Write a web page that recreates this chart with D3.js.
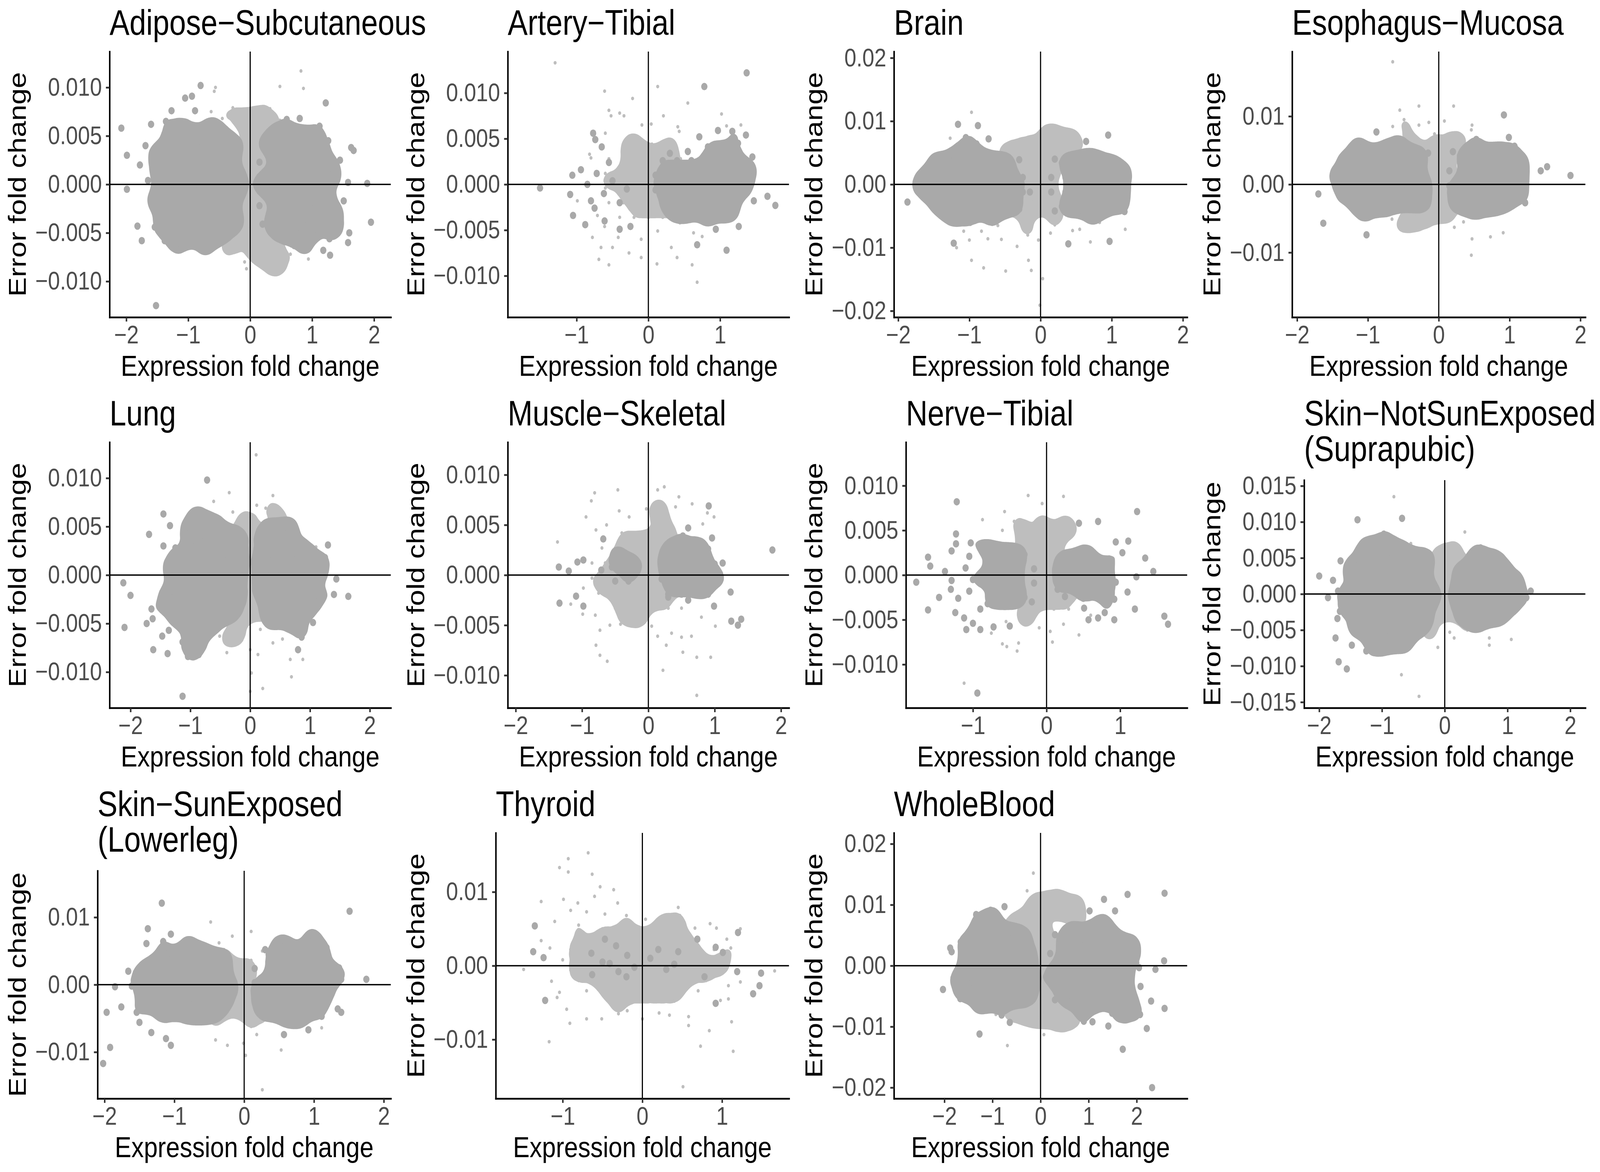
<!DOCTYPE html>
<html>
  <head>
    <meta charset="utf-8" />
    <title>Error vs expression fold change by tissue</title>
    <script src="https://d3js.org/d3.v7.min.js"></script>
    <style>
      html, body { margin: 0; padding: 0; width: 100%; height: 100%; overflow: hidden; background: #ffffff; }
      svg { display: block; }
      text { font-family: "Liberation Sans", Arial, Helvetica, sans-serif; }
    </style>
  </head>
  <body>
    <svg id="chart" viewBox="0 0 4819 3000" preserveAspectRatio="none" style="width: 100%; height: 100%"></svg>

    <script>
      // panel titles in facet order
      var titles = [
        "Adipose\u2212Subcutaneous", "Artery\u2212Tibial", "Brain", "Esophagus\u2212Mucosa",
        "Lung", "Muscle\u2212Skeletal", "Nerve\u2212Tibial", "Skin\u2212NotSunExposed\n(Suprapubic)",
        "Skin\u2212SunExposed\n(Lowerleg)", "Thyroid", "WholeBlood"
      ];

      // symmetric axis limits of each panel
      var xLimits = [2.27, 1.96, 2.06, 2.07, 2.35, 2.12, 1.91, 2.24, 2.1, 1.84, 3.05];
      var yLimits = [0.0137, 0.01453, 0.021, 0.0195, 0.0137, 0.01325, 0.01486, 0.0158, 0.0169, 0.018, 0.0218];

      var xTicks = [
        [-2, -1, 0, 1, 2], [-1, 0, 1], [-2, -1, 0, 1, 2], [-2, -1, 0, 1, 2],
        [-2, -1, 0, 1, 2], [-2, -1, 0, 1, 2], [-1, 0, 1], [-2, -1, 0, 1, 2],
        [-2, -1, 0, 1, 2], [-1, 0, 1], [-2, -1, 0, 1, 2]
      ];
      var yTicks = [
        [-0.01, -0.005, 0, 0.005, 0.01], [-0.01, -0.005, 0, 0.005, 0.01],
        [-0.02, -0.01, 0, 0.01, 0.02], [-0.01, 0, 0.01],
        [-0.01, -0.005, 0, 0.005, 0.01], [-0.01, -0.005, 0, 0.005, 0.01],
        [-0.01, -0.005, 0, 0.005, 0.01], [-0.015, -0.01, -0.005, 0, 0.005, 0.01, 0.015],
        [-0.01, 0, 0.01], [-0.01, 0, 0.01], [-0.02, -0.01, 0, 0.01, 0.02]
      ];
      var yDigits = [3, 3, 2, 2, 3, 3, 3, 3, 2, 2, 2];

      // points as flat pairs: expression fold change, error fold change (x 1e-3)
      // "Big" = large dark dots, "Small" = small light dots
      var yUnit = 0.001;

      var adiposeBig = [
        -2.08,5.8, -1.99,3.0, -1.99,-0.5, -1.78,2.0, -1.69,4.0, -1.52,3.9, -1.60,6.2, -1.58,2.8, -1.65,0.4, -1.58,-1.7,
        -1.82,-4.3, -1.75,-5.8, -1.54,-4.4, -1.36,-4.3, -1.38,-5.8, -1.21,-6.5, -1.10,-6.4, -1.52,-12.5, -1.01,-4.8, -0.70,-6.2,
        -0.74,-6.8, -0.87,-5.6, -1.31,-2.4, -1.36,6.5, -1.27,7.6, -1.05,8.9, -0.94,9.1, -0.80,10.2, -0.89,7.6, -1.10,6.2,
        -0.63,6.3, -0.52,5.8, -1.33,4.6, -1.45,2.2, -1.48,-0.9, -1.40,-3.0, -1.25,5.3, -0.95,5.5, -0.75,5.0, -0.40,-5.5, -0.55,-5.2,
        0.59,6.7, 0.80,6.8, 1.22,8.4, 1.12,6.0, 1.26,4.5, 0.82,4.7, 1.07,3.5, 1.45,2.5, 1.63,3.8, 1.67,3.5,
        1.38,0.6, 1.58,0.2, 1.89,0.1, 1.51,-1.7, 1.44,-2.6, 1.95,-3.9, 1.33,-4.2, 1.44,-4.7, 1.60,-5.0, 1.58,-6.0,
        1.28,-5.6, 1.18,-6.8, 1.29,-7.3, 0.89,-6.2, 0.88,-6.6, 0.86,-5.0, 0.73,-4.7, 1.02,-3.6, 1.11,-2.3, 1.20,-1.0,
        1.25,1.5, 1.15,2.5, 0.95,5.2, 0.45,5.6, 0.62,-5.5, 1.35,-3.4, 1.05,-4.6,
        -1.15,4.6, -0.95,4.9, -0.8,4.4, -0.65,4.7, -0.5,4.3, -0.35,4.6, -0.2,4.2, -1.3,3.6, -1.1,5.6, -0.7,5.6, -0.45,5.2,
        -1.15,-4.4, -0.95,-4.6, -0.8,-4.3, -0.65,-4.8, -0.5,-4.4, -0.3,-4.5, -0.2,-3.9, -1.3,-3.5, -1.05,-5.3, -0.6,-5.6, -0.85,-5.0,
        -1.38,2.5, -1.42,1.2, -1.4,-0.2, -1.38,-1.6, -1.33,-2.8, -1.55,0.9, -1.5,-2.0,
        0.2,4.3, 0.35,4.6, 0.5,4.4, 0.65,4.8, 0.8,4.3, 0.95,4.0, 0.4,5.2, 0.75,5.5, 1.0,4.6,
        0.2,-4.1, 0.35,-4.5, 0.5,-4.3, 0.65,-4.7, 0.8,-4.4, 0.95,-4.0, 0.45,-5.3, 0.75,-5.4, 1.0,-5.0,
        1.15,3.0, 1.2,1.6, 1.2,0.2, 1.18,-1.2, 1.15,-2.8, 1.3,0.9, 1.3,-1.8, 1.35,2.2,
        -1.0,3.8, -0.8,3.8, -0.6,3.8, -0.4,3.8, -0.25,3.8,
        -1.2,2.3, -1.0,2.3, -0.8,2.3, -0.6,2.3, -0.4,2.3, -0.2,2.3,
        -1.25,0.8, -1.05,0.8, -0.85,0.8, -0.65,0.8, -0.45,0.8, -0.25,0.8, -0.15,0.8,
        -1.25,-0.7, -1.05,-0.7, -0.85,-0.7, -0.65,-0.7, -0.45,-0.7, -0.25,-0.7, -0.15,-0.7,
        -1.2,-2.2, -1.0,-2.2, -0.8,-2.2, -0.6,-2.2, -0.4,-2.2, -0.2,-2.2,
        -1.0,-3.7, -0.8,-3.7, -0.6,-3.7, -0.4,-3.7, -0.25,-3.7,
        0.3,3.8, 0.5,3.8, 0.7,3.8, 0.85,3.8,
        0.15,2.3, 0.35,2.3, 0.55,2.3, 0.75,2.3, 0.95,2.3,
        0.15,0.8, 0.3,0.8, 0.5,0.8, 0.7,0.8, 0.9,0.8, 1.05,0.8,
        0.15,-0.7, 0.3,-0.7, 0.5,-0.7, 0.7,-0.7, 0.9,-0.7, 1.05,-0.7,
        0.15,-2.2, 0.35,-2.2, 0.55,-2.2, 0.75,-2.2, 0.95,-2.2,
        0.3,-3.7, 0.5,-3.7, 0.7,-3.7, 0.85,-3.7
      ];
      var adiposeSmall = [
        -0.3,4.5, -0.1,4.5, 0.1,4.5, 0.3,4.5, 0.5,4.5, -0.3,3.0, -0.1,3.0, 0.1,3.0, 0.3,3.0,
        -0.2,1.5, 0,1.5, 0.2,1.5, -0.2,0, 0,0, 0.2,0, -0.2,-1.5, 0,-1.5, 0.2,-1.5,
        -0.3,-3.0, -0.1,-3.0, 0.1,-3.0, 0.3,-3.0, 0.5,-3.0, -0.2,-4.5, 0,-4.5, 0.2,-4.5, 0.4,-4.5, 0.6,-4.5,
        0.48,10.1, 0.82,11.7, 0.86,9.9, -0.56,10.0, -0.58,9.6, -0.28,7.9, -0.63,7.5, -0.02,6.6, 0.13,7.8, 0.32,7.8,
        -0.07,7.2, 0.48,6.6, -0.45,6.8, -0.2,6.2, 0.2,6.3, 0.6,5.9, -0.5,5.6, 0.05,5.5, 0.35,5.5,
        -0.09,-8.0, -0.06,-8.7, 0.37,-8.8, 0.44,-8.1, 0.49,-8.4, 0.24,-8.0, 0.18,-7.6, 0.09,-6.5, 0.01,-7.3, 0.94,-7.7,
        -0.28,-6.7, -0.42,-6.7, -0.52,-6.1, 0.28,-5.5, 0.49,-5.8, 0.7,-6.5, -0.15,-5.8, 0.65,-7.2, -0.35,-5.2
      ];

      var arteryBig = [
        -1.51,-0.4, -1.06,1.0, -1.09,-1.1, -1.05,-3.4, -0.88,-4.4, -0.94,1.6, -0.77,5.6, -0.74,4.9, -0.65,4.1, -0.80,-1.8,
        -0.61,-4.0, -0.40,-4.9, -0.25,-4.6,
        0.78,10.7, 1.37,12.2, 0.97,5.9, 1.17,5.8, 1.36,5.4, 1.25,4.5, 0.99,4.3, 0.83,4.1, 0.71,5.2, 1.45,3.0,
        1.22,2.6, 1.37,2.0, 1.42,1.6, 1.26,0.4, 1.66,-1.3, 1.77,-2.3, 1.47,-1.8, 1.25,-0.8, 1.26,-4.6, 1.09,-7.2,
        0.68,-6.6, 0.94,-4.9, 0.84,-4.1, 1.12,-3.4, 1.03,-2.8,
        0.3,3.4, 0.55,3.6, 0.8,3.4, 1.05,3.3, 0.3,-3.0, 0.5,-3.2, 1.0,-3.0, 1.2,-2.8, 1.38,1.0, 1.4,-0.5,
        0.2,2.6, 0.4,2.6, 0.6,2.6, 0.8,2.6, 1.0,2.6, 1.2,2.6,
        0.1,1.0, 0.3,1.0, 0.5,1.0, 0.7,1.0, 0.9,1.0, 1.1,1.0, 1.25,1.0,
        0.1,-0.6, 0.3,-0.6, 0.5,-0.6, 0.7,-0.6, 0.9,-0.6, 1.1,-0.6, 1.25,-0.6,
        0.2,-2.2, 0.4,-2.2, 0.6,-2.2, 0.8,-2.2, 1.0,-2.2, 1.15,-2.2,
        0.4,-3.5, 0.6,-3.5, 0.8,-3.5,
        -0.72,1.2, -0.5,0.4, -0.62,-1.0, -0.4,-2.0, -0.75,-2.6, -0.3,-0.5, -0.55,2.4, -0.85,0.0
      ];
      var arterySmall = [
        -0.35,4.4, -0.15,4.4, 0.05,4.4, 0.25,4.4,
        -0.55,2.8, -0.35,2.8, -0.15,2.8, 0.05,2.8, 0.25,2.8, 0.45,2.8,
        -0.6,1.2, -0.4,1.2, -0.2,1.2, 0,1.2, 0.2,1.2, 0.4,1.2,
        -0.6,-0.4, -0.4,-0.4, -0.2,-0.4, 0,-0.4, 0.2,-0.4, 0.4,-0.4,
        -0.55,-2.0, -0.35,-2.0, -0.15,-2.0, 0.05,-2.0, 0.25,-2.0, 0.45,-2.0,
        -0.4,-3.6, -0.2,-3.6, 0,-3.6, 0.2,-3.6, 0.4,-3.6,
        -1.30,13.3, 0.13,10.7, -0.61,10.2, -0.22,9.4, 0.55,8.9, -0.55,8.1, -0.52,7.5, -0.40,7.8, -0.34,7.5, 0.21,7.5,
        1.02,7.7, 0.04,6.6, 0.41,6.3, 0.43,5.8, -0.60,5.6, -0.82,3.3, 1.09,6.4, 1.29,6.5, 0.35,4.5, -0.21,5.1,
        -0.09,6.5, -0.80,2.9,
        -0.78,-5.8, -0.66,-6.9, -0.50,-6.9, -0.42,-5.8, -0.27,-7.5, -0.10,-8.0, -0.10,-6.0, 0.12,-8.7, 0.40,-8.0, 0.61,-8.8,
        0.68,-10.7, -0.69,-8.2, -0.55,-8.8, 0.32,-6.9, 0.63,-5.3, 0.13,-5.1, 0.44,-4.2, 0.75,-5.7, -0.61,-4.6, -0.71,-3.4,
        -0.99,-1.8
      ];

      var brainBig = [
        -1.87,-2.8, -1.74,-0.5, -1.67,1.0, -1.49,4.2, -1.43,2.8, -1.16,9.5, -0.88,9.3, -1.05,7.4, -0.73,7.2, -1.12,5.4,
        -1.21,3.9, -1.55,-1.2, -1.46,-4.0, -1.27,-4.6, -1.21,-5.7, -0.99,-6.0, -0.68,-6.0, -1.22,-9.3, -0.9,6.4, -1.35,-2.6,
        0.95,7.8, 0.64,6.8, 0.67,4.2, 1.05,2.8, 1.22,2.0, 1.17,-1.7, 1.18,-4.3, 0.97,-9.0, 0.73,-5.7, 0.89,-3.1,
        0.39,-9.4, 1.1,0.6,
        -1.3,4.2, -1.1,4.5, -0.9,4.3, -0.7,4.6, -0.5,4.2, -0.3,3.9, -1.45,2.8,
        -1.3,-4.3, -1.1,-4.6, -0.9,-4.4, -0.7,-4.7, -0.5,-4.5, -0.3,-3.9, -1.45,-2.6,
        -1.6,1.8, -1.62,0.2, -1.6,-1.5,
        0.2,4.0, 0.4,4.3, 0.6,4.2, 0.8,4.4, 1.0,3.5, 0.2,-4.2, 0.4,-4.4, 0.6,-4.3, 0.8,-4.5, 1.0,-3.6,
        1.12,2.2, 1.15,0.0, 1.12,-2.2,
        -1.2,3.4, -1.0,3.4, -0.8,3.4, -0.6,3.4, -0.4,3.4,
        -1.45,1.1, -1.25,1.1, -1.05,1.1, -0.85,1.1, -0.65,1.1, -0.45,1.1, -0.25,1.1,
        -1.45,-1.2, -1.25,-1.2, -1.05,-1.2, -0.85,-1.2, -0.65,-1.2, -0.45,-1.2, -0.25,-1.2, -0.15,-1.2,
        -1.2,-3.5, -1.0,-3.5, -0.8,-3.5, -0.6,-3.5, -0.4,-3.5,
        0.3,3.4, 0.5,3.4, 0.7,3.4, 0.9,3.4,
        0.15,1.1, 0.35,1.1, 0.55,1.1, 0.75,1.1, 0.95,1.1,
        0.15,-1.2, 0.35,-1.2, 0.55,-1.2, 0.75,-1.2, 0.95,-1.2, 1.05,-1.2,
        0.3,-3.5, 0.5,-3.5, 0.7,-3.5, 0.9,-3.5
      ];
      var brainSmall = [
        -0.5,4.6, -0.3,4.6, -0.1,4.6, 0.1,4.6, 0.3,4.6, -0.5,2.3, -0.3,2.3, -0.1,2.3, 0.1,2.3, 0.3,2.3,
        -0.4,0, -0.2,0, 0,0, 0.2,0,
        -0.5,-2.3, -0.3,-2.3, -0.1,-2.3, 0.1,-2.3, 0.3,-2.3, -0.5,-4.6, -0.3,-4.6, -0.1,-4.6, 0.1,-4.6, 0.3,-4.6,
        -0.97,11.4, -1.27,7.3, -0.73,5.1, -0.49,5.6, -0.34,6.1, -0.21,6.3, 0.04,8.1, 0.14,8.4, 0.24,8.3, 0.43,8.1,
        0.47,6.9, 0.36,6.1, 0.20,6.5, 0.55,5.9, -0.1,6.8,
        -1.08,-7.4, -0.83,-7.4, -1.00,-8.8, -0.74,-8.6, -0.55,-8.7, -0.18,-8.0, -0.03,-8.8, 0.14,-7.7,
        0.45,-7.3, 0.55,-7.1, 0.70,-9.1, 1.19,-7.1, -1.18,-10.0, -0.33,-9.8, -0.97,-12.0, -0.17,-12.0, -0.80,-13.2,
        -0.49,-13.7, -0.13,-13.6, 0.03,-14.9, -0.01,-19.1, 0.83,-6.0, 0.61,-5.4, -0.6,-6.5, -0.2,-6.2, 0.2,-6.4
      ];

      var esophagusBig = [
        -1.70,-1.4, -1.63,-5.7, -1.49,1.6, -1.33,-1.5, -1.32,4.0, -1.19,4.8, -1.14,6.2, -0.88,7.7, -1.02,-7.4, -1.04,-4.8,
        -1.08,-3.4, -0.78,-3.9, -0.55,6.6, -1.4,0.2, -0.7,5.6,
        0.53,6.6, 0.85,5.0, 0.99,6.9, 0.92,10.2, 1.07,5.6, 1.44,2.0, 1.53,2.6, 1.86,1.3, 1.19,-1.9, 1.22,-2.7,
        0.91,-1.6, 0.53,-4.4, 0.38,-3.1, 1.15,0.8, 1.2,3.5, 0.75,-3.5,
        -1.1,5.0, -0.9,5.2, -0.7,5.0, -0.5,5.3, -0.3,4.9, -0.15,4.6,
        -1.15,-3.2, -0.95,-3.4, -0.75,-3.1, -0.55,-3.5, -0.35,-3.2, -0.2,-3.0, -1.35,3.2, -1.38,1.0, -1.35,-1.4,
        0.2,4.8, 0.4,5.1, 0.6,5.0, 0.8,4.8, 1.0,4.0, 0.25,-3.2, 0.45,-3.4, 0.65,-3.3, 0.85,-3.1, 1.0,-2.6,
        1.15,3.0, 1.18,1.0, 1.15,-1.2,
        -1.0,4.2, -0.8,4.2, -0.6,4.2, -0.4,4.2, -0.2,4.2,
        -1.2,2.0, -1.0,2.0, -0.8,2.0, -0.6,2.0, -0.4,2.0, -0.2,2.0,
        -1.25,-0.2, -1.05,-0.2, -0.85,-0.2, -0.65,-0.2, -0.45,-0.2, -0.25,-0.2, -0.15,-0.2,
        -1.2,-2.4, -1.0,-2.4, -0.8,-2.4, -0.6,-2.4, -0.4,-2.4, -0.2,-2.4,
        0.3,4.2, 0.5,4.2, 0.7,4.2, 0.9,4.2,
        0.15,2.0, 0.3,2.0, 0.5,2.0, 0.7,2.0, 0.9,2.0, 1.05,2.0,
        0.15,-0.2, 0.3,-0.2, 0.5,-0.2, 0.7,-0.2, 0.9,-0.2, 1.05,-0.2,
        0.2,-2.4, 0.4,-2.4, 0.6,-2.4, 0.8,-2.4, 0.95,-2.4
      ];
      var esophagusSmall = [
        -0.4,5.5, -0.2,5.5, 0,5.5, 0.2,5.5, -0.4,3.3, -0.2,3.3, 0,3.3, 0.2,3.3, 0.4,3.3,
        -0.3,1.1, -0.1,1.1, 0.1,1.1, 0.3,1.1, -0.3,-1.1, -0.1,-1.1, 0.1,-1.1, 0.3,-1.1,
        -0.4,-3.3, -0.2,-3.3, 0,-3.3, 0.2,-3.3, 0.4,-3.3,
        -0.65,18.0, -0.28,11.5, 0.21,11.5, -0.55,10.9, -0.49,9.5, -0.28,8.7, -0.14,9.1, 0.08,9.3, 0.47,8.7, 0.46,8.0,
        -0.65,8.5, -0.06,7.4, 0.19,7.0, 0.35,6.6, 0.22,5.6, -0.38,6.1, -0.45,7.8,
        -0.66,-5.1, -0.49,-5.2, -0.35,-4.7, -0.09,-5.1, 0.08,-4.0, 0.22,-6.3, 0.13,-4.9, 0.47,-8.0, 0.73,-7.7, 0.91,-7.1,
        0.46,-10.4, -0.35,-6.4, -0.55,-6.4, -0.2,-5.6, 0.35,-5.5
      ];

      var lungBig = [
        -0.72,9.8, -1.45,6.3, -1.34,5.1, -1.69,4.2, -1.45,3.0, -1.09,4.8, -0.96,5.9, -0.89,6.5, -0.74,6.0, -0.6,5.3,
        -1.36,0.8, -1.24,0.8, -2.12,-0.8, -2.00,-2.1, -1.47,-1.8, -1.3,-2.4, -1.41,-3.4, -1.65,-3.5, -1.63,-4.5, -1.73,-5.0,
        -2.10,-5.4, -1.47,-6.3, -1.30,-4.7, -1.15,-4.4, -1.36,-5.7, -1.13,-6.9, -0.95,-6.9, -0.76,-6.9, -1.62,-7.7, -1.38,-8.1,
        -1.04,-8.4, -0.86,-8.2, -1.13,-12.5, -0.95,-5.6, -1.02,-4.0,
        0.69,5.1, 0.56,4.8, 0.4,4.3, 1.30,3.1, 0.88,1.8, 1.06,1.1, 1.25,1.8, 1.44,-0.4, 1.14,0.3, 1.40,-2.0,
        1.64,-2.2, 1.06,-2.7, 0.99,-3.9, 1.05,-4.9, 0.88,-5.2, 0.80,-7.7, 0.86,-6.4, 0.69,-5.0,
        -1.0,4.4, -0.8,4.2, -0.65,4.6, -0.45,4.3, -0.3,4.5, -0.15,4.1, -0.9,5.1, -0.55,5.3,
        -1.1,-4.6, -0.9,-4.5, -0.7,-4.8, -0.5,-4.5, -0.3,-4.3, -0.2,-3.5, -0.6,-5.8,
        -1.25,2.8, -1.28,1.4, -1.3,-0.1, -1.3,-1.6, -1.28,-3.1,
        0.2,4.3, 0.35,4.6, 0.5,4.2, 0.7,4.0, 0.85,3.2, 0.3,5.2, 0.6,5.0,
        0.25,-4.2, 0.45,-4.5, 0.6,-4.2, 0.8,-3.5, 0.35,-5.2, 0.7,-5.0,
        1.0,2.6, 1.05,1.3, 1.08,-0.2, 1.05,-1.6, 1.0,-2.9, 1.2,0.5, 1.15,-2.2,
        -0.95,3.6, -0.75,3.6, -0.55,3.6, -0.35,3.6, -0.2,3.6,
        -1.05,2.1, -0.85,2.1, -0.65,2.1, -0.45,2.1, -0.25,2.1, -0.15,2.1,
        -1.1,0.6, -0.9,0.6, -0.7,0.6, -0.5,0.6, -0.3,0.6, -0.15,0.6,
        -1.15,-0.9, -0.95,-0.9, -0.75,-0.9, -0.55,-0.9, -0.35,-0.9, -0.15,-0.9,
        -1.15,-2.4, -0.95,-2.4, -0.75,-2.4, -0.55,-2.4, -0.35,-2.4, -0.15,-2.4,
        -1.0,-3.9, -0.8,-3.9, -0.6,-3.9, -0.4,-3.9,
        0.2,3.6, 0.4,3.6, 0.6,3.6,
        0.15,2.1, 0.3,2.1, 0.5,2.1, 0.7,2.1, 0.85,2.1,
        0.15,0.6, 0.3,0.6, 0.5,0.6, 0.7,0.6, 0.9,0.6,
        0.15,-0.9, 0.3,-0.9, 0.5,-0.9, 0.7,-0.9, 0.9,-0.9,
        0.15,-2.4, 0.35,-2.4, 0.55,-2.4, 0.75,-2.4, 0.9,-2.4,
        0.3,-3.6, 0.5,-3.6, 0.7,-3.6
      ];
      var lungSmall = [
        -0.3,4.6, -0.1,4.6, 0.1,4.6, 0.3,4.6, 0.5,4.6, -0.4,3.1, -0.2,3.1, 0,3.1, 0.2,3.1, 0.4,3.1,
        -0.3,1.6, -0.1,1.6, 0.1,1.6, -0.2,0.1, 0,0.1, 0.15,0.1, -0.2,-1.4, 0,-1.4, 0.15,-1.4,
        -0.35,-2.9, -0.15,-2.9, 0.05,-2.9, 0.25,-2.9, -0.3,-4.4, -0.1,-4.4, 0.1,-4.4, 0.3,-4.4, 0.5,-4.4,
        0.10,12.4, -0.35,8.5, 0.38,8.2, -0.61,7.6, 0.11,7.2, 0.45,7.1, 0.26,6.9, -0.29,6.5, -0.14,6.0, 0.0,5.9,
        0.51,5.9, 0.54,5.0, 1.10,2.9, -0.45,5.6,
        -0.39,-6.4, -0.51,-6.3, -0.35,-6.8, -0.14,-6.7, -0.39,-8.0, 0.0,-7.7, 0.13,-8.2, 0.38,-7.0, 0.54,-6.6, 0.67,-8.7,
        0.88,-8.7, 0.02,-10.1, 0.69,-10.5, 0.21,-11.7, 0.17,-5.6, 0.43,-4.9, -0.2,-5.5, 0.0,-12.0
      ];

      var muscleBig = [
        -1.35,0.8, -1.34,-2.8, -1.20,0.4, -1.07,1.3, -0.98,1.5, -1.09,-2.1, -0.98,-3.1, -0.71,0.5, -0.68,3.6, -0.48,2.2,
        -0.29,0.7, -0.25,1.5,
        0.27,1.9, 0.37,3.0, 0.60,4.7, 0.52,3.9, 0.76,3.4, 0.96,3.7, 0.91,6.9, 1.12,1.2, 1.09,-0.4, 0.46,-0.4,
        0.30,-2.2, 0.60,-2.5, 0.99,-3.1, 1.24,-1.7, 1.25,-4.6, 1.35,-5.0, 1.40,-4.4, 1.87,2.5, 0.8,-1.0,
        0.3,2.6, 0.5,2.6, 0.7,2.6, 0.9,2.6,
        0.2,1.1, 0.4,1.1, 0.6,1.1, 0.8,1.1, 1.0,1.1,
        0.2,-0.4, 0.4,-0.4, 0.6,-0.4, 0.8,-0.4, 1.0,-0.4,
        0.3,-1.9, 0.5,-1.9, 0.7,-1.9, 0.9,-1.9,
        -0.55,0.8, -0.35,0.8, -0.15,0.8, -0.5,-0.6, -0.3,-0.6, -0.45,2.0
      ];
      var muscleSmall = [
        -0.4,4.2, -0.2,4.2, 0,4.2, 0.2,4.2, 0.4,4.2,
        -0.7,2.7, -0.5,2.7, -0.3,2.7, -0.1,2.7, 0.1,2.7, 0.3,2.7, 0.5,2.7, 0.7,2.7,
        -0.85,1.2, -0.65,1.2, -0.45,1.2, -0.25,1.2, -0.05,1.2, 0.15,1.2, 0.35,1.2, 0.55,1.2, 0.75,1.2,
        -0.85,-0.3, -0.65,-0.3, -0.45,-0.3, -0.25,-0.3, -0.05,-0.3, 0.15,-0.3, 0.35,-0.3, 0.55,-0.3, 0.75,-0.3,
        -0.75,-1.8, -0.55,-1.8, -0.35,-1.8, -0.15,-1.8, 0.05,-1.8, 0.25,-1.8, 0.45,-1.8, 0.65,-1.8,
        -0.5,-3.3, -0.3,-3.3, -0.1,-3.3, 0.1,-3.3, 0.3,-3.3, 0.5,-3.3,
        -1.37,3.3, -0.94,5.8, -0.81,8.2, -0.86,7.4, -0.46,8.5, -0.79,4.5, -0.63,5.0, -0.44,6.4, -0.29,5.8, -0.03,6.6,
        0.12,6.9, 0.22,6.7, 0.14,8.5, 0.24,8.8, 0.46,7.8, 0.41,6.8, 0.66,7.1, 0.09,6.0, 0.28,5.3, 0.89,6.2,
        0.99,5.8, 0.82,5.1,
        -0.99,-3.9, -0.73,-5.5, -0.58,-5.0, -0.42,-4.9, -0.22,-4.9, -0.09,-4.5, 0.05,-5.1, 0.14,-6.1, 0.35,-5.8, 0.50,-6.2,
        0.27,-7.0, 0.65,-6.1, 1.01,-5.1, -0.79,-7.0, -0.73,-8.0, -0.62,-8.6, 0.22,-9.5, 0.52,-7.7, 0.73,-8.2, 0.94,-8.2,
        0.73,-12.0, -1.17,-2.9, -0.98,-1.3, 0.8,-4.2, -0.8,-4.0
      ];

      var nerveBig = [
        -1.22,8.2, -1.23,4.6, -1.23,3.5, -1.29,2.7, -1.61,2.0, -1.58,1.0, -1.77,-0.8, -1.38,0.4, -1.29,-0.6, -1.46,-2.5,
        -1.3,-1.6, -1.2,-2.6, -1.61,-3.9, -1.24,-4.2, -1.12,-4.8, -1.09,-6.1, -1.00,-5.4, -0.90,-6.1, -0.72,-5.8, -0.50,-5.7,
        -0.94,-13.2, -1.03,3.6, -1.05,2.1, -0.84,3.2, -1.1,0.8, -1.0,-0.5, -1.05,-1.8, -0.9,-3.8,
        0.70,6.0, 0.44,5.8, 0.55,2.7, 0.85,1.8, 0.94,3.7, 1.03,2.5, 1.11,3.8, 1.34,1.9, 1.23,7.1, 1.45,0.4,
        1.22,-0.2, 0.94,-0.8, 0.92,-2.7, 0.79,-4.2, 0.70,-4.8, 0.92,-5.0, 0.57,-5.0, 0.51,-3.7, 1.10,-1.9, 1.20,-3.8,
        1.60,-4.6, 1.65,-5.5, 0.8,0.6,
        -0.8,3.0, -0.6,3.2, -0.4,3.0, -0.8,-3.2, -0.6,-3.4, -0.4,-3.3, -0.2,-3.0,
        0.25,2.3, 0.45,2.4, 0.65,2.0, 0.25,-2.4, 0.5,-2.6, 0.75,-2.3,
        -0.7,2.3, -0.5,2.3, -0.3,2.3,
        -0.85,0.7, -0.68,0.7, -0.51,0.7, -0.34,0.7, -0.17,0.7,
        -0.85,-0.9, -0.68,-0.9, -0.51,-0.9, -0.34,-0.9, -0.17,-0.9,
        -0.7,-2.5, -0.5,-2.5, -0.3,-2.5,
        0.15,1.5, 0.32,1.5, 0.5,1.5,
        0.12,0, 0.27,0, 0.44,0, 0.61,0, 0.78,0,
        0.15,-1.6, 0.32,-1.6, 0.5,-1.6, 0.67,-1.6
      ];
      var nerveSmall = [
        -0.4,4.2, -0.2,4.2, 0,4.2, 0.2,4.2,
        -0.6,2.6, -0.4,2.6, -0.2,2.6, 0,2.6, 0.2,2.6, 0.4,2.6,
        -0.6,1.0, -0.4,1.0, -0.2,1.0, 0,1.0, 0.2,1.0, 0.4,1.0, 0.6,1.0,
        -0.6,-0.6, -0.4,-0.6, -0.2,-0.6, 0,-0.6, 0.2,-0.6, 0.4,-0.6, 0.6,-0.6,
        -0.5,-2.2, -0.3,-2.2, -0.1,-2.2, 0.1,-2.2, 0.3,-2.2, 0.5,-2.2,
        -0.3,-3.8, -0.1,-3.8, 0.1,-3.8, 0.3,-3.8,
        -0.25,8.9, 0.23,8.8, -0.06,8.0, -0.57,7.1, -0.87,6.2, -0.29,5.9, -0.09,6.4, 0.22,6.0, 0.30,5.7, 0.44,5.6,
        0.02,5.8, 0.36,4.8, -0.44,6.0, -0.6,5.0,
        1.64,-5.4, 0.05,-6.3, 0.23,-5.5, 0.44,-6.7, -0.10,-5.9, -0.23,-5.3, -0.35,-4.9, -0.60,-7.7, -0.54,-8.0, -0.40,-8.5,
        -0.38,-7.6, -0.75,-6.5, -1.12,-12.1, 0.08,-7.5, -0.55,-5.2, 0.6,-4.5
      ];

      var skinNotSunBig = [
        -2.00,2.5, -1.86,-0.5, -1.78,1.9, -1.66,4.6, -1.7,0.4, -1.67,-2.4, -1.71,-3.4, -1.74,-6.1, -1.69,-9.4, -1.56,-10.4,
        -1.48,-7.1, -1.46,-5.1, -1.39,10.3, -1.25,6.8, -1.18,6.4, -0.97,8.3, -0.87,7.2, -0.68,10.5, -1.06,-8.2, -1.25,-7.9,
        -0.98,-6.5, -0.85,-7.1, -0.69,-6.8, -0.62,-7.3, -1.53,-0.7, -1.45,-1.6, -1.55,3.3, -1.45,4.2, -1.35,5.8,
        0.85,4.7, 1.00,3.8, 1.16,2.2, 1.37,0.4, 1.30,-0.5, 1.09,-1.8, 0.88,-3.2, 0.57,6.4, 0.78,5.6, 0.43,5.6,
        -1.2,5.6, -1.0,5.9, -0.8,5.5, -0.6,5.8, -0.4,5.4, -0.25,5.0, -1.1,6.6, -0.7,6.7,
        -1.2,-5.7, -1.0,-5.9, -0.8,-5.6, -0.6,-5.9, -0.4,-5.1, -0.3,-4.3, -0.9,-6.7, -1.3,-4.9,
        -1.42,3.8, -1.45,2.0, -1.48,0.0, -1.45,-2.2, -1.42,-4.0,
        0.25,3.6, 0.45,3.8, 0.65,3.6, 0.85,3.3, 0.55,4.5, 0.25,-3.2, 0.4,-3.8, 0.6,-3.7, 0.8,-3.4, 0.95,-2.6, 0.5,-4.5,
        1.02,2.0, 1.08,0.4, 1.05,-1.0, 1.15,1.2, 1.12,-0.3,
        -1.1,4.8, -0.9,4.8, -0.7,4.8, -0.5,4.8, -0.3,4.8,
        -1.25,2.8, -1.05,2.8, -0.85,2.8, -0.65,2.8, -0.45,2.8, -0.25,2.8,
        -1.3,0.8, -1.1,0.8, -0.9,0.8, -0.7,0.8, -0.5,0.8, -0.3,0.8, -0.15,0.8,
        -1.3,-1.2, -1.1,-1.2, -0.9,-1.2, -0.7,-1.2, -0.5,-1.2, -0.3,-1.2, -0.15,-1.2,
        -1.25,-3.2, -1.05,-3.2, -0.85,-3.2, -0.65,-3.2, -0.45,-3.2, -0.25,-3.2,
        -1.1,-5.0, -0.9,-5.0, -0.7,-5.0, -0.5,-5.0,
        0.2,2.8, 0.4,2.8, 0.6,2.8, 0.8,2.8,
        0.15,0.8, 0.3,0.8, 0.5,0.8, 0.7,0.8, 0.9,0.8,
        0.15,-1.2, 0.3,-1.2, 0.5,-1.2, 0.7,-1.2, 0.9,-1.2,
        0.3,-3.0, 0.5,-3.0, 0.7,-3.0
      ];
      var skinNotSunSmall = [
        -0.2,4.6, 0,4.6, 0.2,4.6, 0.4,4.6,
        -0.5,2.6, -0.3,2.6, -0.1,2.6, 0.1,2.6, 0.3,2.6, 0.5,2.6, 0.7,2.6,
        -0.3,0.6, -0.1,0.6, 0.1,0.6, 0.3,0.6, -0.3,-1.4, -0.1,-1.4, 0.1,-1.4, 0.3,-1.4,
        -0.5,-3.4, -0.3,-3.4, -0.1,-3.4, 0.1,-3.4, 0.3,-3.4, 0.5,-3.4, 0.7,-3.4,
        -0.81,13.5, 0.32,8.6, 0.08,6.2, 0.20,6.6, -0.11,6.2, -0.31,5.7, -0.54,7.0, 0.50,5.6, 0.64,4.7,
        0.71,-6.1, 0.71,-7.1, 1.06,-6.3, -0.55,-5.3, -0.45,-6.1, -0.20,-5.6, -0.11,-7.4, 0.08,-5.3, 0.15,-6.1, 0.36,-5.0,
        -0.69,-11.2, -0.41,-14.2, -0.3,-5.2
      ];

      var skinSunBig = [
        -2.02,-11.7, -1.92,-9.3, -1.97,-4.1, -1.76,-3.3, -1.85,-0.3, -1.61,-0.2, -1.66,2.0, -1.55,1.8, -1.40,2.5, -1.35,1.2,
        -1.54,-4.1, -1.50,-5.6, -1.33,-7.1, -1.12,-8.0, -1.05,-9.0, -1.18,12.1, -1.38,8.3, -1.40,6.1, -1.16,6.4, -1.05,7.5,
        -1.19,3.9, -0.80,6.6, -0.6,5.4, -1.45,-2.2, -1.35,-3.0,
        1.51,10.9, 0.94,7.4, 1.02,7.0, 1.18,5.5, 0.98,5.5, 0.51,6.2, 1.36,2.5, 1.39,0.8, 1.75,0.8, 1.16,-1.4,
        1.34,-3.6, 1.39,-4.1, 1.11,-4.7, 0.92,-6.7, 0.57,-7.4, 0.82,-5.8, 0.62,-5.5, 1.2,1.0,
        -1.1,4.5, -0.9,4.7, -0.7,4.4, -0.5,4.6, -0.3,4.3, -1.25,3.2, -0.8,5.5,
        -1.15,-3.6, -1.05,-4.5, -0.8,-5.0, -0.6,-5.1, -0.4,-4.8, -0.3,-3.6, -1.2,-4.8,
        -1.35,2.5, -1.38,0.8, -1.4,-0.9, -1.36,-2.3,
        0.3,5.2, 0.5,5.4, 0.7,5.2, 0.9,5.3, 1.05,4.6, 0.6,6.1, 0.3,-4.5, 0.5,-4.6, 0.7,-4.7, 0.9,-4.3, 0.2,-3.5, 1.0,-3.3,
        1.15,3.4, 1.2,1.4, 1.2,-0.6, 1.15,-2.5,
        -1.0,3.8, -0.8,3.8, -0.6,3.8, -0.4,3.8, -0.25,3.8,
        -1.2,1.7, -1.0,1.7, -0.8,1.7, -0.6,1.7, -0.4,1.7, -0.2,1.7,
        -1.25,-0.4, -1.05,-0.4, -0.85,-0.4, -0.65,-0.4, -0.45,-0.4, -0.25,-0.4, -0.15,-0.4,
        -1.2,-2.5, -1.0,-2.5, -0.8,-2.5, -0.6,-2.5, -0.4,-2.5, -0.2,-2.5,
        -0.9,-4.3, -0.7,-4.3, -0.5,-4.3,
        0.35,4.5, 0.55,4.5, 0.75,4.5, 0.95,4.5,
        0.15,2.4, 0.35,2.4, 0.55,2.4, 0.75,2.4, 0.95,2.4, 1.05,2.4,
        0.15,0.3, 0.3,0.3, 0.5,0.3, 0.7,0.3, 0.9,0.3, 1.05,0.3,
        0.15,-1.8, 0.35,-1.8, 0.55,-1.8, 0.75,-1.8, 0.95,-1.8,
        0.35,-3.8, 0.55,-3.8, 0.75,-3.8
      ];
      var skinSunSmall = [
        -0.3,3.6, -0.1,3.6, 0.1,3.6, -0.4,1.5, -0.2,1.5, 0,1.5, 0.15,1.5, -0.3,-0.6, -0.1,-0.6, 0.05,-0.6,
        -0.4,-2.7, -0.2,-2.7, 0,-2.7, 0.2,-2.7, -0.4,-4.6, -0.2,-4.6, 0,-4.6, 0.2,-4.6, 0.4,-4.6,
        -0.48,9.3, 0.10,7.9, -0.17,7.2, -0.36,6.2, -0.29,5.2, 0.55,6.2, 0.26,5.0, -0.6,5.5,
        -0.43,-5.6, -0.41,-8.2, -0.24,-9.0, -0.01,-8.7, 0.02,-10.5, 0.18,-7.4, 0.53,-9.7, 1.11,-6.4, 0.26,-15.6, 0.33,-4.5,
        -0.6,-5.5, 0.1,-6.2, 0.6,-6.0
      ];

      var thyroidBig = [
        -1.35,5.4, -1.37,1.9, -1.24,1.1, -1.22,-4.7, 1.49,-1.0, 1.47,-2.7, 1.39,-3.8, 1.19,-0.8, 1.20,4.5, 1.01,1.8,
        0.92,2.5, 0.78,-1.5, 0.92,-5.1, 0.45,1.9, 0.69,3.6, -0.19,1.4, -0.33,2.7, -0.64,1.7, -0.47,3.6, -0.41,0.3,
        -0.63,-1.2, -0.2,-1.5, 0.3,-0.5, -0.5,0.5, -0.3,-0.8, 0.1,1.0, 0.4,0.2, 0.2,2.2, -0.1,-0.2
      ];
      var thyroidSmall = [
        -0.5,5.0, -0.3,5.0, -0.1,5.0, 0.1,5.0, 0.3,5.0, 0.5,5.0,
        -0.8,3.6, -0.6,3.6, -0.4,3.6, -0.2,3.6, 0,3.6, 0.2,3.6, 0.4,3.6, 0.6,3.6,
        -0.9,2.2, -0.7,2.2, -0.5,2.2, -0.3,2.2, -0.1,2.2, 0.1,2.2, 0.3,2.2, 0.5,2.2, 0.7,2.2, 0.9,2.2,
        -1.0,0.8, -0.8,0.8, -0.6,0.8, -0.4,0.8, -0.2,0.8, 0,0.8, 0.2,0.8, 0.4,0.8, 0.6,0.8, 0.8,0.8, 1.0,0.8,
        -0.9,-0.6, -0.7,-0.6, -0.5,-0.6, -0.3,-0.6, -0.1,-0.6, 0.1,-0.6, 0.3,-0.6, 0.5,-0.6, 0.7,-0.6, 0.9,-0.6,
        -0.8,-2.0, -0.6,-2.0, -0.4,-2.0, -0.2,-2.0, 0,-2.0, 0.2,-2.0, 0.4,-2.0, 0.6,-2.0, 0.8,-2.0,
        -0.7,-3.4, -0.5,-3.4, -0.3,-3.4, -0.1,-3.4, 0.1,-3.4, 0.3,-3.4, 0.5,-3.4, 0.7,-3.4,
        -0.4,-4.8, -0.2,-4.8, 0,-4.8, 0.2,-4.8, 0.4,-4.8,
        -0.68,15.3, -0.93,14.5, -1.04,13.3, -0.93,12.7, -0.63,12.4, -0.53,10.7, -1.27,8.7, -0.99,9.0, -0.81,8.5, -0.60,9.4,
        -0.36,10.3, -0.31,8.5, -0.90,7.5, -0.70,7.3, -0.47,7.0, 0.04,6.3, 0.24,6.3, 0.45,7.9, 0.47,6.8, 0.35,5.8,
        0.66,5.1, 0.85,5.7, 0.93,5.1, 1.06,3.6, 1.11,2.4, 1.23,5.0, -1.27,3.4, -1.16,2.4, -1.49,-0.5, -1.14,-2.1,
        -1.04,-3.6, -1.07,-4.3, -0.95,-5.9, -0.91,-7.8, -0.70,-7.2, -0.51,-7.2, -1.17,-10.3, -0.19,-6.1, 0.21,-6.4, 0.34,-6.7,
        0.58,-6.9, 0.58,-8.1, 0.73,-10.9, 0.84,-8.8, 0.98,-4.7, 1.08,-4.5, 1.12,-7.6, 1.14,-11.6, 1.08,-2.7, 1.23,-2.2,
        0.51,-16.4, 1.03,0.2, 1.66,-0.7, -0.2,6.8, -0.8,5.5, -1.1,6.0, -0.3,-6.5, 0.0,-7.2
      ];

      var wholeBloodBig = [
        -2.03,-3.9, -1.88,2.9, -1.85,2.3, -1.81,-2.0, -1.70,-3.4, -1.67,-5.4, -1.66,3.9, -1.60,-1.2, -1.56,0.8, -1.50,-3.5,
        -1.46,2.9, -1.42,5.8, -1.34,8.4, -1.29,3.7, -1.30,-6.9, -1.27,-11.2, -1.19,6.1, -1.05,6.2, -1.04,9.1, -0.91,8.0,
        -0.75,9.7, -0.64,5.6, -1.31,-4.5, -1.19,-6.3, -0.81,-8.1, -0.64,-9.3, -1.45,-1.9, -1.4,1.2,
        1.32,10.9, 1.81,11.7, 2.58,11.9, 1.02,9.0, 1.55,9.0, 1.24,7.4, 1.38,7.2, 1.10,6.1, 1.45,5.4, 1.62,4.8,
        1.87,4.1, 1.86,3.1, 1.96,2.9, 1.74,1.0, 1.99,0.5, 2.05,-0.3, 2.39,-0.6, 2.57,0.8, 1.88,-2.3, 1.71,-1.1,
        1.55,-2.7, 1.71,-3.6, 2.08,-3.4, 1.86,-5.1, 1.88,-6.1, 1.77,-6.5, 1.71,-8.8, 1.85,-7.6, 2.07,-8.0, 2.30,-5.8,
        2.58,-7.0, 2.21,-10.3, 1.71,-13.7, 2.32,-20.0, 1.41,-9.9, 1.49,-7.8, 1.08,-9.2, 0.90,-9.1, 0.82,-7.5, 1.44,-4.3,
        1.3,-6.0, 1.05,-6.6, 1.55,1.8,
        -1.2,5.3, -0.95,5.6, -0.75,5.2, -0.5,5.5, -0.3,5.0, -1.05,6.4,
        -1.15,-5.6, -0.9,-5.9, -0.65,-5.8, -0.4,-5.7, -0.2,-4.9, -1.25,-4.5,
        -1.45,3.4, -1.5,1.0, -1.52,-1.5, -1.45,-3.8,
        0.3,5.1, 0.55,5.5, 0.8,5.2, 1.05,5.6, 1.3,4.5, 0.7,6.3, 0.3,-5.6, 0.55,-5.9, 0.8,-5.6, 1.05,-5.8, 1.25,-4.6,
        1.5,3.3, 1.55,0.8, 1.55,-1.6, 1.48,-3.8,
        -1.1,4.4, -0.85,4.4, -0.6,4.4, -0.35,4.4,
        -1.25,2.0, -1.0,2.0, -0.75,2.0, -0.5,2.0, -0.25,2.0, -0.2,2.0,
        -1.3,-0.4, -1.05,-0.4, -0.8,-0.4, -0.55,-0.4, -0.3,-0.4, -0.2,-0.4,
        -1.25,-2.8, -1.0,-2.8, -0.75,-2.8, -0.5,-2.8, -0.25,-2.8, -0.2,-2.8,
        -1.0,-5.0, -0.75,-5.0, -0.5,-5.0, -0.25,-5.0,
        0.4,4.4, 0.65,4.4, 0.9,4.4, 1.15,4.4,
        0.2,2.0, 0.4,2.0, 0.65,2.0, 0.9,2.0, 1.15,2.0, 1.35,2.0,
        0.2,-0.4, 0.4,-0.4, 0.65,-0.4, 0.9,-0.4, 1.15,-0.4, 1.35,-0.4,
        0.2,-2.8, 0.4,-2.8, 0.65,-2.8, 0.9,-2.8, 1.15,-2.8, 1.3,-2.8,
        0.4,-5.0, 0.65,-5.0, 0.9,-5.0, 1.1,-5.0
      ];
      var wholeBloodSmall = [
        -0.3,6.0, -0.05,6.0, 0.2,6.0, -0.4,3.6, -0.15,3.6, 0.1,3.6, 0.3,3.6, -0.3,1.2, -0.05,1.2, 0.2,1.2,
        -0.3,-1.2, -0.05,-1.2, 0.2,-1.2, -0.4,-3.6, -0.15,-3.6, 0.1,-3.6, 0.3,-3.6, -0.3,-6.0, -0.05,-6.0, 0.2,-6.0,
        -0.15,15.2, -0.28,12.3, -0.22,10.7, 0.02,11.2, 0.26,11.2, 0.41,11.6, 0.71,11.0, 0.84,10.0, 0.44,9.8, 0.24,9.3,
        0.04,9.6, -0.06,9.2, -0.27,8.0, -0.14,7.7, 0.49,8.6, 0.62,8.6, 0.75,8.0, 0.85,7.1, -0.50,7.6, -0.38,7.2,
        -0.69,6.4, -0.56,6.2, -0.86,7.8,
        -0.93,-8.0, -0.68,-8.1, -0.69,-13.1, -0.59,-6.9, -0.47,-7.4, -0.32,-6.4, -0.34,-9.2, -0.24,-7.2, -0.08,-8.5, -0.04,-9.1,
        0.09,-7.7, 0.21,-9.2, 0.39,-9.9, 0.07,-11.3, 0.46,-7.7, 0.53,-9.2, 0.64,-8.7, 0.75,-8.6, 0.29,-7.0
      ];

      var bigPoints = [adiposeBig, arteryBig, brainBig, esophagusBig, lungBig, muscleBig,
        nerveBig, skinNotSunBig, skinSunBig, thyroidBig, wholeBloodBig];
      var smallPoints = [adiposeSmall, arterySmall, brainSmall, esophagusSmall, lungSmall, muscleSmall,
        nerveSmall, skinNotSunSmall, skinSunSmall, thyroidSmall, wholeBloodSmall];

      var colPitch = 1199.3, rowPitch = 1000;
      var bigColor = "#A9A9A9", smallColor = "#BEBEBE";

      var svg = d3.select("#chart");
      var measure = svg.append("text").attr("font-size", 65).attr("visibility", "hidden");
      function textWidth(s) {
        measure.text(s);
        return measure.node().getComputedTextLength();
      }
      var refWidth = textWidth("\u22120.010");

      function pairs(flat) {
        var out = [];
        for (var k = 0; k < flat.length; k += 2) {
          out.push({ x: flat[k], y: flat[k + 1] * yUnit });
        }
        return out;
      }

      // points with at least 3 neighbours within 46px form the solid part of a cloud
      function crowded(pts) {
        return pts.filter(function (p) {
          var n = 0;
          pts.forEach(function (q) {
            var dx = p.px - q.px, dy = p.py - q.py;
            if (dx * dx + dy * dy < 46 * 46) n++;
          });
          return n - 1 >= 3;
        });
      }

      function drawCloud(g, pts, w, h, color, r) {
        var dens = d3.contourDensity()
          .x(function (d) { return d.px; })
          .y(function (d) { return d.py; })
          .size([w, h])
          .cellSize(2)
          .bandwidth(20)
          .thresholds([0.0005])(crowded(pts));
        dens.forEach(function (c) {
          c.coordinates = c.coordinates
            .filter(function (poly) { return Math.abs(d3.polygonArea(poly[0])) > 3000; })
            .map(function (poly) { return [poly[0]]; });
        });
        g.selectAll(null).data(dens).enter().append("path")
          .attr("d", d3.geoPath())
          .attr("fill", color);
        g.selectAll(null).data(pts).enter().append("circle")
          .attr("cx", function (d) { return d.px; })
          .attr("cy", function (d) { return d.py; })
          .attr("r", r)
          .attr("fill", color);
      }

      titles.forEach(function (title, i) {
        var col = i % 4, row = Math.floor(i / 4);
        var cx = col * colPitch, cy = row * rowPitch;
        var lines = title.split("\n");

        var fmtY = d3.format("." + yDigits[i] + "f");
        var maxW = d3.max(yTicks[i], function (v) { return textWidth(fmtY(v)); });
        var left = cx + 330 - refWidth + maxW;
        var right = cx + 1177;
        var top = cy + 132 + 97 * (lines.length - 1);
        var bottom = cy + 812;

        var x = d3.scaleLinear().domain([-xLimits[i], xLimits[i]]).range([left, right]);
        var y = d3.scaleLinear().domain([-yLimits[i], yLimits[i]]).range([bottom, top]);

        function local(d) {
          return { px: x(d.x) - left, py: y(d.y) - top };
        }

        var plot = svg.append("g").attr("transform", "translate(" + left + "," + top + ")");
        drawCloud(plot.append("g"), pairs(smallPoints[i]).map(local), right - left, bottom - top, smallColor, 4.6);
        drawCloud(plot.append("g"), pairs(bigPoints[i]).map(local), right - left, bottom - top, bigColor, 9.5);

        // zero reference lines
        svg.append("line")
          .attr("x1", x(0)).attr("x2", x(0)).attr("y1", top).attr("y2", bottom)
          .attr("stroke", "#000").attr("stroke-width", 3.4);
        svg.append("line")
          .attr("x1", left).attr("x2", right).attr("y1", y(0)).attr("y2", y(0))
          .attr("stroke", "#000").attr("stroke-width", 3.4);

        var xAxis = svg.append("g")
          .attr("transform", "translate(0," + bottom + ")")
          .call(d3.axisBottom(x).tickValues(xTicks[i]).tickFormat(d3.format("d"))
            .tickSize(11).tickSizeOuter(0).tickPadding(10));
        var yAxis = svg.append("g")
          .attr("transform", "translate(" + left + ",0)")
          .call(d3.axisLeft(y).tickValues(yTicks[i]).tickFormat(fmtY)
            .tickSize(11).tickSizeOuter(0).tickPadding(12));

        [xAxis, yAxis].forEach(function (ax) {
          ax.select(".domain").attr("stroke", "#000").attr("stroke-width", 4.6)
            .attr("stroke-linecap", "square");
          ax.selectAll(".tick line").attr("stroke", "#333333").attr("stroke-width", 4.6);
          ax.selectAll(".tick text").attr("fill", "#4d4d4d")
            .attr("font-size", 65)
            .attr("font-family", "'Liberation Sans', Arial, sans-serif");
        });

        // panel title, aligned with the panel's left edge
        lines.forEach(function (line, k) {
          svg.append("text")
            .attr("x", left)
            .attr("y", cy + 89 + 91 * k)
            .attr("font-size", 90)
            .attr("fill", "#000")
            .text(line);
        });

        svg.append("text")
          .attr("x", (left + right) / 2)
          .attr("y", cy + 962)
          .attr("text-anchor", "middle")
          .attr("font-size", 75)
          .attr("fill", "#000")
          .text("Expression fold change");

        svg.append("text")
          .attr("transform", "translate(" + (cx + 78) + "," + (top + bottom) / 2 + ") rotate(-90)")
          .attr("text-anchor", "middle")
          .attr("font-size", 75)
          .attr("fill", "#000")
          .text("Error fold change");
      });

      measure.remove();
    </script>
  </body>
</html>
